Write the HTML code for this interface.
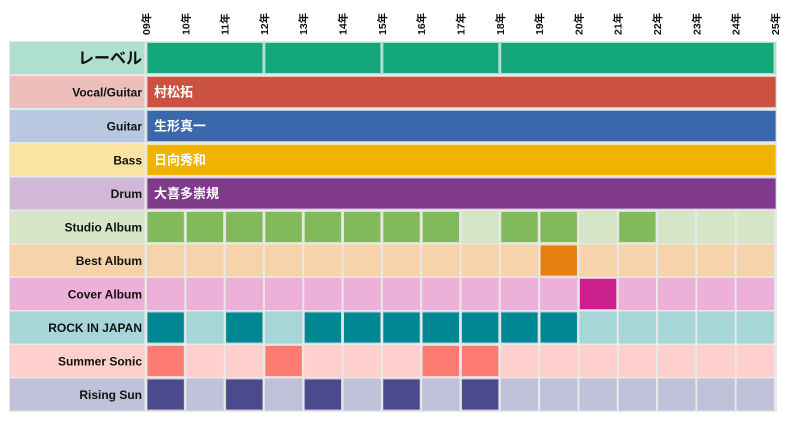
<!DOCTYPE html>
<html><head><meta charset="utf-8"><style>
body{margin:0;background:#fff;width:786px;height:420px;overflow:hidden}
text{font-family:"Liberation Sans","Noto Sans CJK JP",sans-serif;font-weight:bold}
</style></head><body>
<svg id="s" width="786" height="420" xmlns="http://www.w3.org/2000/svg"></svg>
<script>
const s=document.getElementById('s');let h='';
const X0=146,W=39.31;
const rows=[
['レーベル','#aee0d0','#13a77b','seg',[[0,3],[3,6],[6,9],[9,16]]],
['Vocal/Guitar','#ecbfba','#cb5240','full','村松拓'],
['Guitar','#b7c8e0','#3b67ab','full','生形真一'],
['Bass','#f9e4a4','#f0b400','full','日向秀和'],
['Drum','#d2b8d7','#7f3a8b','full','大喜多崇規'],
['Studio Album','#d5e6c7','#82b95a','cells',[0,1,2,3,4,5,6,7,9,10,12]],
['Best Album','#f6d3aa','#e57f10','cells',[10]],
['Cover Album','#ecb0d9','#cb1f8e','cells',[11]],
['ROCK IN JAPAN','#a7d6d9','#008793','cells',[0,2,4,5,6,7,8,9,10]],
['Summer Sonic','#fdd0cd','#fb7b70','cells',[0,3,7,8]],
['Rising Sun','#c0c0d8','#4a4a8c','cells',[0,2,4,6,8]]];
const tops=[42,76,110,144,177.5,211,244.5,278,311.5,345,378.5];
h+=`<rect x="9" y="41" width="768" height="371" fill="#e8e8e8"/>`;
for(let i=0;i<=16;i++){const x=X0+W*i;const y=String(i+9).padStart(2,'0')+'年';
h+=`<text transform="translate(${x+4},35) rotate(-90)" font-size="10.5" fill="#111">${y}</text>`;}
rows.forEach((r,k)=>{const t=tops[k],H=32;
h+=`<rect x="10" y="${t}" width="134.5" height="${H}" fill="${r[1]}"/>`;
h+=`<text x="142" y="${t+H/2+(k==0?5.5:4.5)}" text-anchor="end" font-size="${k==0?16:12}" fill="#111">${r[0]}</text>`;
if(r[3]=='cells'){for(let i=0;i<16;i++){const on=r[4].includes(i);
h+=`<rect x="${X0+W*i+1}" y="${t}" width="${W-2}" height="${H}" fill="${r[1]}"/>`;
if(on)h+=`<rect x="${X0+W*i+1.5}" y="${t+1}" width="${W-3}" height="${H-2}" fill="${r[2]}"/>`;}}
else if(r[3]=='full'){h+=`<rect x="146.5" y="${t}" width="629.5" height="${H}" fill="${r[1]}"/><rect x="147.5" y="${t+1}" width="628" height="${H-2}" fill="${r[2]}"/>`;
h+=`<text x="154" y="${t+H/2+4.5}" font-size="13" fill="#fff">${r[4]}</text>`;}
else{h+=`<rect x="146.5" y="${t}" width="629.5" height="${H}" fill="${r[1]}"/>`;
r[4].forEach(([a,b])=>{h+=`<rect x="${X0+W*a+1.5}" y="${t+1}" width="${W*(b-a)-3}" height="${H-2}" fill="${r[2]}"/>`;});}
});
s.innerHTML=h;
</script>
</body></html>
